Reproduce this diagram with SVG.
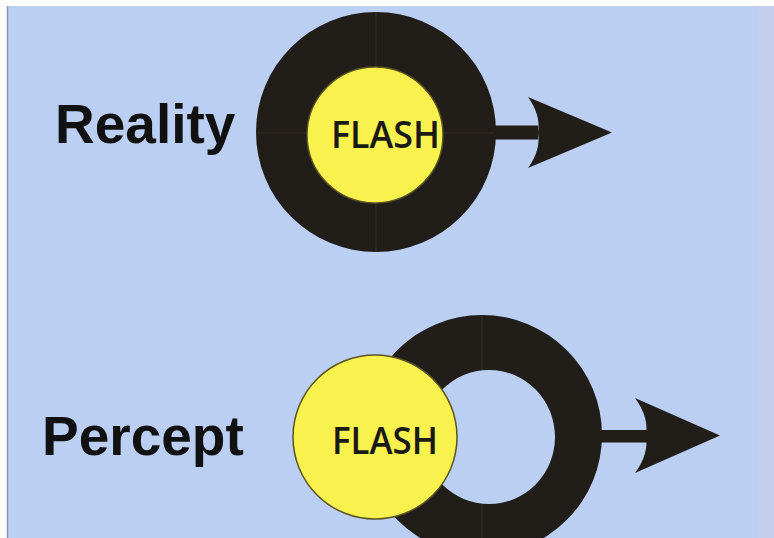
<svg xmlns="http://www.w3.org/2000/svg" width="774" height="538" viewBox="0 0 774 538">
  <style>
    .label { font-family: "Liberation Sans", Arial, sans-serif; font-weight: bold; font-size: 55px; fill: #111; }
    .flash { font-family: "Open Sans", "Liberation Sans", sans-serif; font-weight: 600; font-size: 38px; fill: #1a1a14; }
    .ring { fill: #211d19; }
    .disc { fill: #f8f14e; stroke: #5a5420; stroke-width: 1.5; }
    .seam { stroke: #332d27; stroke-width: 1.2; fill: none; }
    .arrow { fill: #211d19; }
  </style>

  <!-- page and frame -->
  <rect x="0" y="0" width="774" height="538" fill="#ffffff"/>
  <rect x="7" y="6" width="767" height="532" fill="#bbcff3"/>
  <rect x="758" y="6" width="16" height="532" fill="#c4cdec"/>
  <line x1="7.5" y1="6" x2="7.5" y2="538" stroke="#8a96b8" stroke-width="1.5"/>

  <!-- top row -->
  <g id="reality-label">
    <text class="label" x="55" y="143">Reality</text>
  </g>
  <g id="reality-ring">
    <circle class="ring" cx="376" cy="132" r="120"/>
    <line class="seam" x1="376" y1="12" x2="376" y2="252"/>
    <line class="seam" x1="256" y1="133" x2="496" y2="133"/>
  </g>
  <g id="reality-flash">
    <circle class="disc" cx="375" cy="135" r="68"/>
    <text class="flash" x="331" y="148" textLength="109" lengthAdjust="spacingAndGlyphs">FLASH</text>
  </g>

  <!-- bottom row -->
  <g id="percept-label">
    <text class="label" x="42" y="455">Percept</text>
  </g>
  <g id="percept-ring">
    <path class="ring" fill-rule="evenodd" d="M602,435 A120,120 0 1,1 362,435 A120,120 0 1,1 602,435 Z M555,437 A66,67 0 1,0 423,437 A66,67 0 1,0 555,437 Z"/>
    <line class="seam" x1="482" y1="315" x2="482" y2="370"/>
    <line class="seam" x1="482" y1="504" x2="482" y2="538"/>
  </g>
  <g id="percept-flash">
    <circle class="disc" cx="375" cy="437" r="82"/>
    <text class="flash" x="332" y="454" textLength="106" lengthAdjust="spacingAndGlyphs">FLASH</text>
  </g>

  <!-- motion arrows -->
  <g id="connectors">
    <g id="reality-arrow">
      <rect class="arrow" x="494" y="125.5" width="44" height="14"/>
      <path class="arrow" d="M528,97 L612,132.5 L528,168 Q541,150 538,132.5 Q541,115 528,97 Z"/>
    </g>
    <g id="percept-arrow">
      <rect class="arrow" x="600" y="430" width="48" height="12.5"/>
      <path class="arrow" d="M635,398 L720,435.5 L635,473 Q649,454 646,435.5 Q649,417 635,398 Z"/>
    </g>
  </g>
</svg>
